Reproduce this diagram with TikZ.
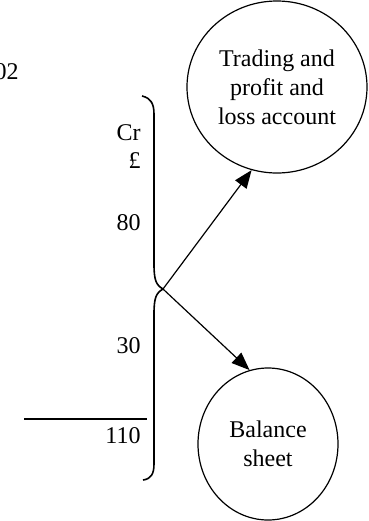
\documentclass[tikz,border=0pt]{standalone}
\usepackage{fontspec}
\setmainfont{Liberation Serif}
\usetikzlibrary{arrows.meta,shapes.geometric}

\begin{document}
\begin{tikzpicture}[
  x=0.5pt, y=-0.5pt,
  >={Triangle[length=9pt,width=7pt]},
  font=\fontsize{12}{14.5}\selectfont,
  amount/.style     = {anchor=base east, inner sep=0pt},
  account/.style    = {draw=black, line width=0.6pt, ellipse, align=center, inner sep=0pt},
  brace line/.style = {draw=black, line width=0.8pt},
  flow/.style       = {draw=black, line width=0.6pt, ->},
  total bar/.style  = {draw=black, line width=1.4pt},
]

\useasboundingbox (0,0) rectangle (369,521);

% ── Ledger column ──────────────────────────────────────────────────────────
% figures are set flush right at x = 141 (units are half points, y downwards)
\def\colX{141}

\node[amount] (year)  at (19,79)     {02};
\node[amount] (cr)    at (\colX,140) {Cr};
\node[amount] (pound) at (\colX,168) {£};
\node[amount] (amtA)  at (\colX,230) {80};
\node[amount] (amtB)  at (\colX,353) {30};
\node[amount] (total) at (\colX,443) {110};

% total rule above 110
\draw[total bar] (24,419) -- (147,419);

% ── Brace ──────────────────────────────────────────────────────────────────
\coordinate (split) at (163,289);

\draw[brace line] (142,96) .. controls (151,98) and (154,104) .. (154,114)
  -- (154,264) .. controls (154,280) and (156,285) .. (split)
  .. controls (156,293) and (154,298) .. (154,314)
  -- (154,464) .. controls (154,474) and (151,479) .. (143,480);

% ── Accounts ───────────────────────────────────────────────────────────────
\node[account, minimum width=90pt, minimum height=86pt] (pl) at (277,87)
  {Trading and\\profit and\\loss account};
\node[account, minimum width=70pt, minimum height=76pt] (bs) at (268,444)
  {Balance\\sheet};

\draw[flow] (split) -- (pl.-107);
\draw[flow] (split) -- (bs.104);

\end{tikzpicture}
\end{document}
